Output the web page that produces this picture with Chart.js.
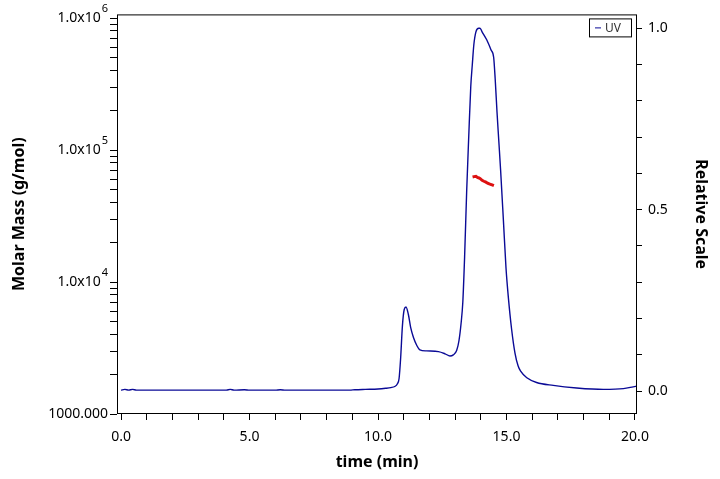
<!DOCTYPE html>
<html lang="en">
<head>
<meta charset="UTF-8">
<title>Molar Mass and UV vs time</title>
<script src="https://cdn.jsdelivr.net/npm/chart.js"></script>
<style>
  html, body { margin: 0; padding: 0; background: #fff; }
</style>
</head>
<body>
<canvas id="chart" width="720" height="479"></canvas>
<script>
// UV trace: time (min) and relative scale
const uvTime = [0.00, 0.15, 0.30, 0.45, 0.60, 1.50, 3.00, 4.10, 4.25, 4.40, 4.80, 5.00, 6.00, 6.20, 6.40,
  8.00, 8.90, 9.10, 9.50, 10.00, 10.30, 10.50, 10.65, 10.75, 10.82, 10.88, 10.95, 11.02, 11.09, 11.18,
  11.27, 11.38, 11.51, 11.63, 11.89, 12.35, 12.61, 12.80, 12.93, 13.06, 13.15, 13.23, 13.30, 13.37,
  13.45, 13.53, 13.61, 13.67, 13.73, 13.81, 13.92, 13.97, 14.05, 14.23, 14.40, 14.50, 14.56, 14.63,
  14.70, 14.77, 14.88, 14.98, 15.07, 15.20, 15.33, 15.45, 15.55, 15.79, 16.17, 16.82, 17.73, 18.77,
  19.55, 19.93, 20.07];
const uvValue = [0.003, 0.005, 0.003, 0.005, 0.003, 0.003, 0.003, 0.003, 0.005, 0.003, 0.004, 0.003, 0.003, 0.004, 0.003,
  0.003, 0.003, 0.004, 0.005, 0.006, 0.008, 0.010, 0.013, 0.020, 0.035, 0.090, 0.180, 0.225, 0.232, 0.212,
  0.176, 0.148, 0.126, 0.114, 0.111, 0.109, 0.103, 0.097, 0.100, 0.112, 0.139, 0.185, 0.245, 0.370,
  0.550, 0.700, 0.840, 0.900, 0.955, 0.990, 1.000, 1.000, 0.990, 0.968, 0.940, 0.920, 0.860, 0.770,
  0.690, 0.610, 0.470, 0.340, 0.260, 0.170, 0.105, 0.070, 0.055, 0.037, 0.024, 0.016, 0.009, 0.005,
  0.007, 0.012, 0.014];

// molar mass (g/mol) across the main peak
const mmTime = [13.68, 13.74, 13.81, 13.87, 13.93, 13.98, 14.05, 14.12, 14.18, 14.23, 14.28, 14.33, 14.38, 14.44, 14.51];
const mmValue = [62500, 62900, 63200, 62000, 61400, 60700, 59000, 58000, 57300, 56600, 56000, 55400, 55000, 54400, 53700];

// axis labels
const timeLabels = [0, 5, 10, 15, 20];
const massDecades = [1000, 10000, 100000, 1000000];
const massLabels = ['1000.000', '1.0x10', '1.0x10', '1.0x10'];
const massExponents = ['', '4', '5', '6'];
const relLabels = [0, 0.5, 1];

const FONT = '"Noto Sans", "DejaVu Sans", sans-serif';

// plot box, legend and exponents of the log labels
const extras = {
  id: 'extras',
  afterDraw(chart) {
    const { ctx, chartArea: a } = chart;
    ctx.save();
    ctx.strokeStyle = '#000';
    ctx.lineWidth = 1;
    ctx.strokeRect(a.left + 0.5, a.top + 0.5, a.right - a.left - 1, a.bottom - a.top - 1);

    // legend box
    const lx = a.right - 48, ly = a.top + 4;
    ctx.strokeRect(lx + 0.5, ly + 0.5, 42, 18);
    ctx.strokeStyle = '#0a0a96';
    ctx.beginPath();
    ctx.moveTo(lx + 6, ly + 9.5);
    ctx.lineTo(lx + 12, ly + 9.5);
    ctx.stroke();
    ctx.fillStyle = '#333';
    ctx.font = '12px ' + FONT;
    ctx.textAlign = 'left';
    ctx.textBaseline = 'middle';
    ctx.fillText(chart.data.datasets[0].label, lx + 16, ly + 10);

    // exponents
    const s = chart.scales.mass;
    ctx.fillStyle = '#000';
    ctx.font = '11px ' + FONT;
    ctx.textAlign = 'right';
    massDecades.forEach((v, i) => {
      if (!massExponents[i]) return;
      const py = s.getPixelForValue(v);
      ctx.fillText(massExponents[i], s.right - 9, py - 9);
    });
    ctx.restore();
  }
};

const tickFont = { family: FONT, size: 14 };
const titleFont = { family: FONT, size: 16, weight: 'bold' };

new Chart(document.getElementById('chart'), {
  type: 'scatter',
  data: {
    datasets: [
      {
        label: 'UV',
        data: uvTime.map((t, i) => ({ x: t, y: uvValue[i] })),
        yAxisID: 'rel',
        showLine: true,
        borderColor: '#0a0a96',
        borderWidth: 1.4,
        pointRadius: 0,
        cubicInterpolationMode: 'monotone'
      },
      {
        label: 'Molar Mass',
        data: mmTime.map((t, i) => ({ x: t, y: mmValue[i] })),
        yAxisID: 'mass',
        showLine: true,
        borderColor: '#dd1111',
        borderWidth: 3,
        pointRadius: 0
      }
    ]
  },
  options: {
    responsive: false,
    animation: false,
    layout: { padding: { top: 11, left: 0, right: 0, bottom: 0 } },
    plugins: { legend: { display: false }, tooltip: { enabled: false } },
    scales: {
      x: {
        type: 'linear',
        position: 'bottom',
        min: -0.156,
        max: 20.078,
        afterFit: s => { s.height = 65; },
        border: { display: false },
        grid: { drawOnChartArea: false, color: '#000', tickLength: 6 },
        ticks: {
          stepSize: 1,
          includeBounds: false,
          autoSkip: false,
          maxRotation: 0,
          padding: 9,
          color: '#000',
          font: tickFont,
          callback: v => timeLabels.includes(v) ? v.toFixed(1) : ''
        },
        title: { display: true, text: 'time (min)', color: '#000', font: titleFont, padding: { top: 0, bottom: 7 } }
      },
      mass: {
        type: 'logarithmic',
        position: 'left',
        min: 1000,
        max: 1066000,
        afterFit: s => { s.width = 117; },
        afterBuildTicks: s => {
          s.ticks = s.ticks.filter(t => {
            if (t.value > 1000000) return false;
            const m = t.value / Math.pow(10, Math.floor(Math.log10(t.value) + 1e-9));
            return Math.abs(m - Math.round(m)) < 1e-6;
          });
        },
        border: { display: false },
        grid: { drawOnChartArea: false, color: '#000', tickLength: 7 },
        ticks: {
          autoSkip: false,
          padding: 2,
          color: '#000',
          font: tickFont,
          callback: v => {
            const i = massDecades.indexOf(v);
            return i < 0 ? '' : massLabels[i] + (massExponents[i] ? '  ' : '');
          }
        },
        title: { display: true, text: 'Molar Mass (g/mol)', color: '#000', font: titleFont, padding: { top: 10, bottom: 0 } }
      },
      rel: {
        type: 'linear',
        position: 'right',
        min: -0.0628,
        max: 1.038,
        afterFit: s => { s.width = 83; },
        border: { display: false },
        grid: { drawOnChartArea: false, color: '#000', tickLength: 5 },
        ticks: {
          stepSize: 0.1,
          includeBounds: false,
          autoSkip: false,
          padding: 6,
          color: '#000',
          font: tickFont,
          callback: v => relLabels.some(r => Math.abs(r - v) < 1e-6) ? v.toFixed(1) : ''
        },
        title: { display: true, text: 'Relative Scale', color: '#000', font: titleFont, padding: { top: 10, bottom: 0 } }
      }
    }
  },
  plugins: [extras]
});
</script>
</body>
</html>
